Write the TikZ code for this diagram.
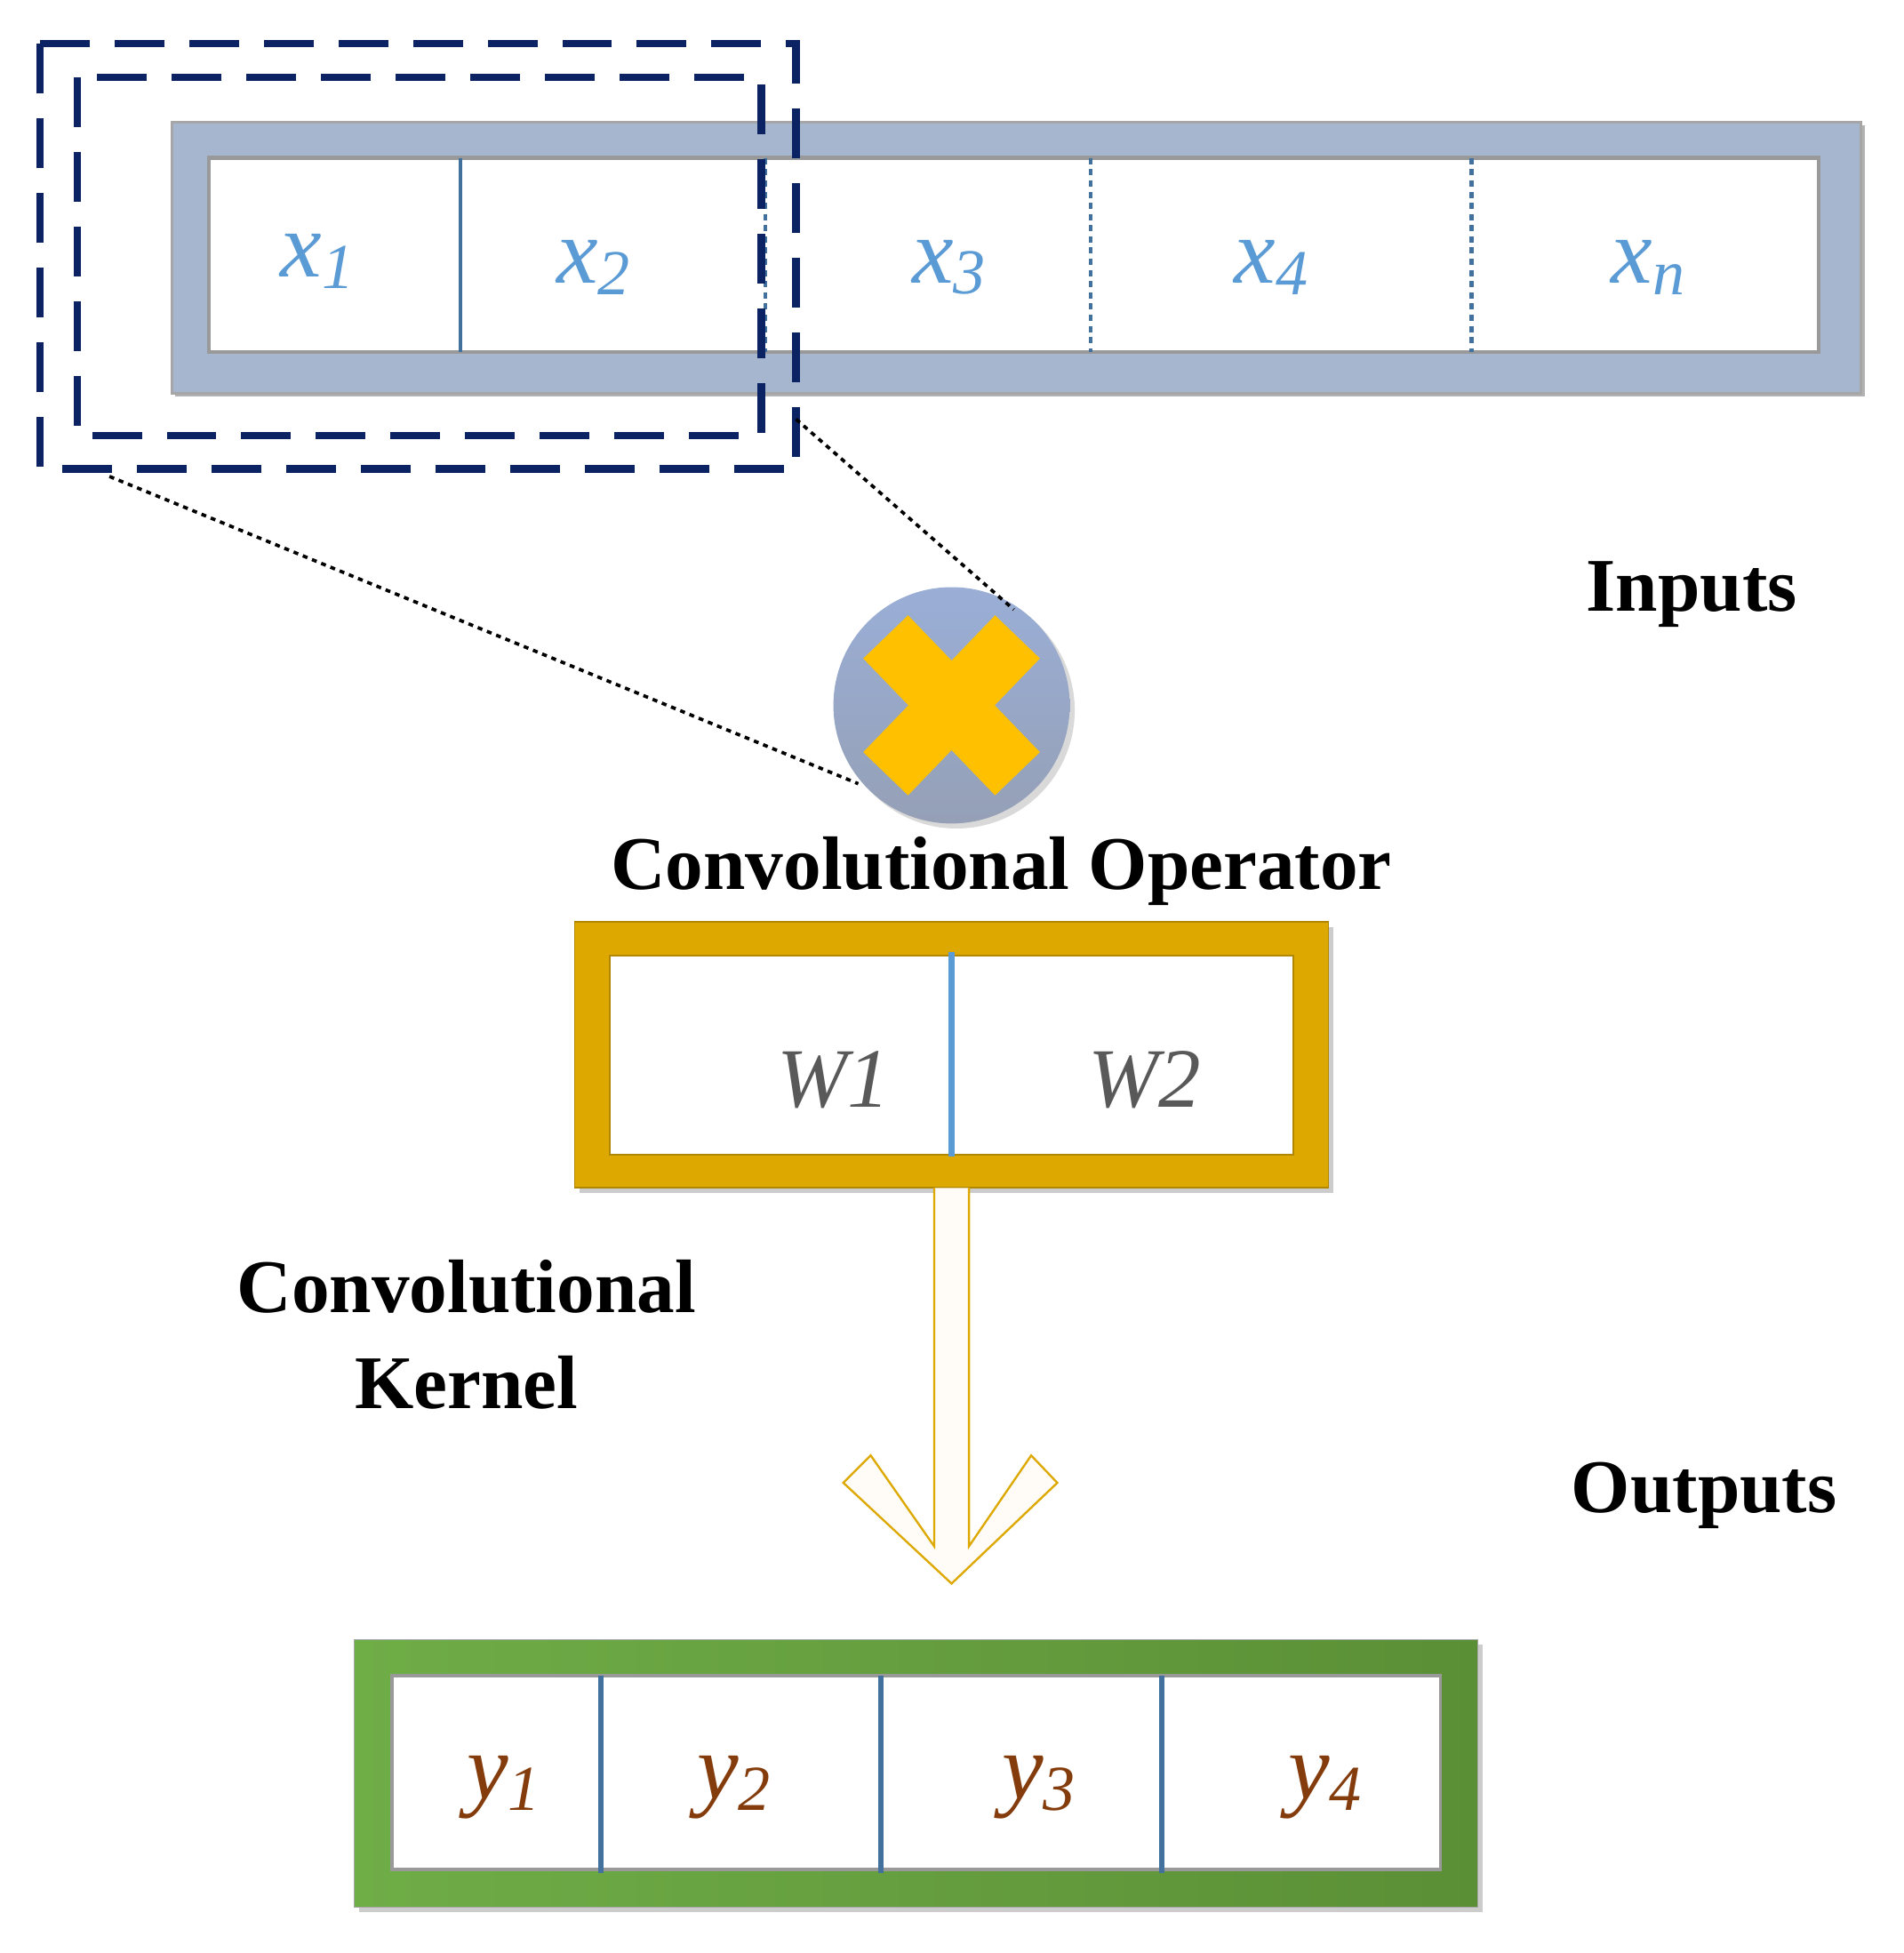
\documentclass[tikz,border=0pt]{standalone}
\usepackage{fontspec}
\setmainfont{Liberation Serif}
\definecolor{inblue}{HTML}{A6B6CE}
\definecolor{lblue}{HTML}{5B9BD5}
\definecolor{navy}{HTML}{0B2263}
\definecolor{gold}{HTML}{DDA800}
\definecolor{xyel}{HTML}{FFC000}
\definecolor{gA}{HTML}{6FAD47}
\definecolor{gB}{HTML}{5B8F36}
\definecolor{divb}{HTML}{41719C}
\definecolor{brown}{HTML}{843C0C}
\definecolor{wgray}{HTML}{595959}
\definecolor{ballT}{HTML}{9AAED6}
\definecolor{ballB}{HTML}{95A0B6}
\newcommand{\sbs}[1]{\raisebox{-0.12em}{\fontsize{44}{48}\selectfont #1}}
\begin{document}
\begin{tikzpicture}[x=0.3mm,y=-0.3mm,
  lab/.style={font=\fontsize{64}{70}\selectfont\itshape},
  title/.style={font=\fontsize{52}{60}\selectfont\bfseries,align=center},
  navydash/.style={navy,line width=1.8mm,dash pattern=on 12mm off 6mm},
  dotl/.style={black,line width=0.8mm,dash pattern=on 1.2mm off 1.2mm}]
\useasboundingbox (0,0) rectangle (1530,1570);
% inputs
\fill[gray!60] (141,101) rectangle (1499,319);
\node[draw=gray!70,line width=0.6mm,fill=inblue,minimum width=1358*0.3mm,minimum height=218*0.3mm,anchor=north west,inner sep=0] (inbox) at (137,97) {};
\fill[white,draw=gray!80,line width=1mm] (168,127) rectangle (1462,283);
\draw[divb,line width=0.9mm] (370,127) -- (370,283);
\foreach \xx in {615,877,1183}{\draw[divb,line width=0.9mm,dash pattern=on 1.5mm off 1.2mm] (\xx,127) -- (\xx,283);}
\node[lab,lblue] (x1) at (255,210) {x\sbs{1}};
\node[lab,lblue] (x2) at (477,215) {x\sbs{2}};
\node[lab,lblue] (x3) at (763,215) {x\sbs{3}};
\node[lab,lblue] (x4) at (1022,215) {x\sbs{4}};
\node[lab,lblue] (xn) at (1325,215) {x\sbs{n}};
% dashed windows
\draw[navydash] (32,35) rectangle (640,377);
\draw[navydash] (62,62) rectangle (612,350);
% operator
\fill[gray!30] (769,571) circle (95);
\shade[top color=ballT,bottom color=ballB] (765,567) circle (95);
\node[circle,minimum size=190*0.3mm,inner sep=0] (op) at (765,567) {};
\begin{scope}[line width=15mm,xyel]
\draw (712,512) -- (818,622);
\draw (818,512) -- (712,622);
\end{scope}
\coordinate (a1) at (88,383); \coordinate (a2) at (690,630);
\coordinate (b1) at (640,337); \coordinate (b2) at (815,490);
\draw[dotl] (a1) -- (a2);
\draw[dotl] (b1) -- (b2);
\node[title] (opl) at (805,700) {Convolutional Operator};
% kernel
\fill[gray!40] (466,745) rectangle (1072,959);
\fill[gold,draw=gold!80!black,line width=0.4mm] (462,741) rectangle (1068,955);
\fill[white,draw=gold!80!black,line width=0.4mm] (490,768) rectangle (1040,928);
\node[inner sep=0] (ker) at (765,848) {};
\draw[lblue,line width=1.5mm] (765,765) -- (765,930);
\node[font=\fontsize{58}{64}\selectfont\itshape,wgray] (w1) at (670,868) {W1};
\node[font=\fontsize{58}{64}\selectfont\itshape,wgray] (w2) at (920,868) {W2};
\node[title,font=\fontsize{52}{66}\selectfont\bfseries] (kl) at (375,1073) {Convolutional\\Kernel};
% arrow
\draw[gold,line width=0.5mm,fill=orange!3,line join=miter] (751,955) -- (751,1243) -- (700,1170) -- (678,1192) -- (765,1273) -- (850,1192) -- (829,1170) -- (779,1243) -- (779,955);
\node[inner sep=0] (tip) at (765,1273) {};
% outputs
\fill[gray!40] (289,1322) rectangle (1192,1537);
\shade[left color=gA,right color=gB,draw=gray!70] (285,1318) rectangle (1188,1533);
\node[inner sep=0] (outbox) at (736,1425) {};
\fill[white,draw=gray!80,line width=0.8mm] (315,1347) rectangle (1158,1503);
\foreach \xx in {483,708,934}{\draw[divb,line width=1.3mm] (\xx,1347) -- (\xx,1506);}
\node[lab,brown] (y1) at (405,1437) {y\sbs{1}};
\node[lab,brown] (y2) at (590,1437) {y\sbs{2}};
\node[lab,brown] (y3) at (835,1437) {y\sbs{3}};
\node[lab,brown] (y4) at (1065,1437) {y\sbs{4}};
\node[title] (inl) at (1360,478) {Inputs};
\node[title] (outl) at (1370,1202) {Outputs};
\end{tikzpicture}
\end{document}
